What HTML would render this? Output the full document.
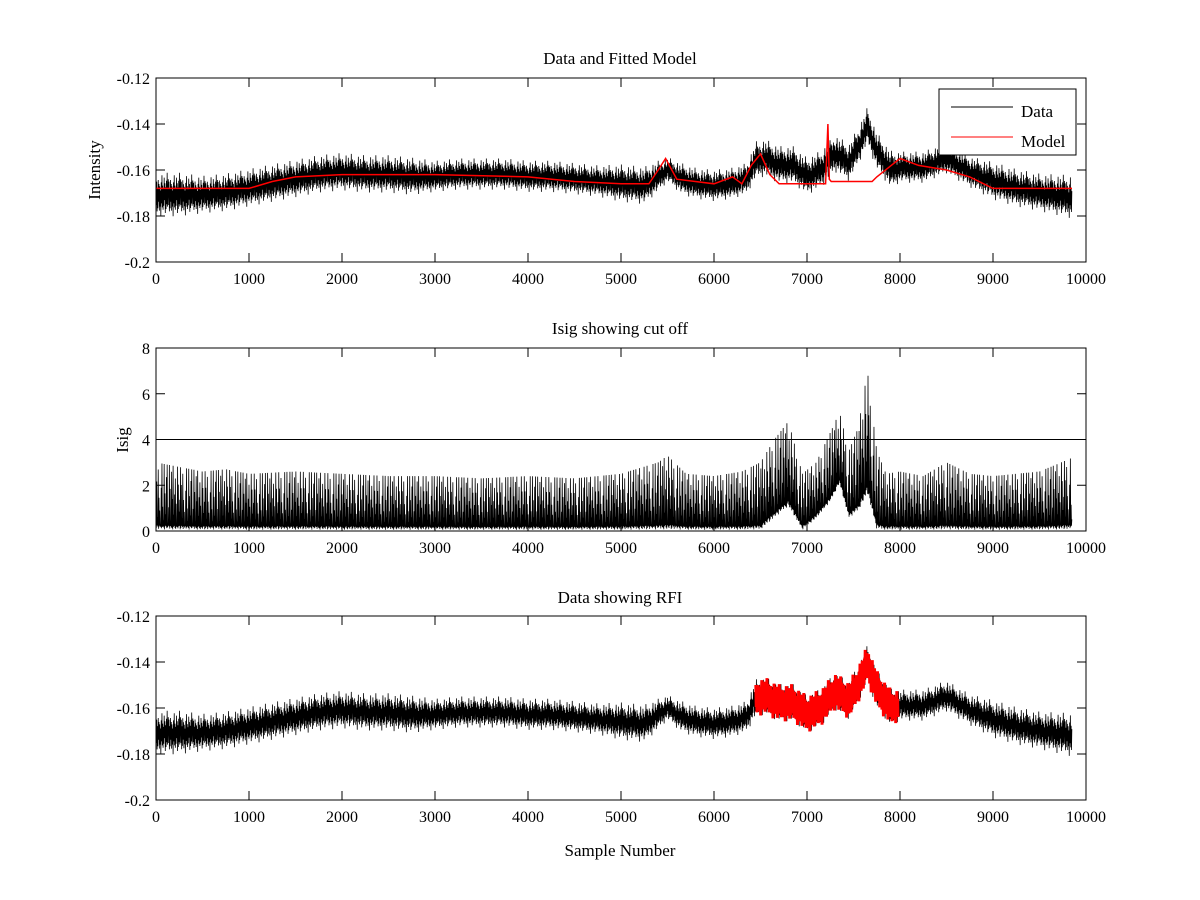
<!DOCTYPE html>
<html><head><meta charset="utf-8"><style>
body{margin:0;background:#fff}
svg{display:block;font-family:"Liberation Serif",serif;}
</style></head><body>
<svg id="fig" width="1200" height="900" viewBox="0 0 1200 900"></svg>
<script>
// ---- data ----
const dataX =   [0,250,500,750,1000,1250,1500,1750,2000,2250,2500,2750,3000,3250,3500,3750,4000,4250,4500,4750,5000,5250,5400,5500,5650,5800,6000,6200,6350,6450,6550,6700,6850,7000,7150,7300,7450,7550,7650,7750,7900,8000,8250,8500,8750,9000,9250,9500,9850];
const dataMid = [-0.171,-0.171,-0.171,-0.170,-0.168,-0.166,-0.164,-0.162,-0.161,-0.162,-0.162,-0.163,-0.163,-0.162,-0.162,-0.162,-0.163,-0.163,-0.164,-0.165,-0.166,-0.167,-0.163,-0.160,-0.164,-0.166,-0.167,-0.166,-0.164,-0.156,-0.155,-0.158,-0.158,-0.163,-0.160,-0.153,-0.157,-0.150,-0.141,-0.152,-0.160,-0.159,-0.159,-0.155,-0.161,-0.165,-0.168,-0.170,-0.172];
const dataHalf = [0.007,0.007,0.006,0.006,0.006,0.006,0.006,0.006,0.006,0.006,0.006,0.006,0.005,0.005,0.005,0.005,0.005,0.005,0.005,0.005,0.006,0.006,0.005,0.004,0.005,0.005,0.005,0.005,0.005,0.006,0.006,0.006,0.006,0.006,0.006,0.006,0.006,0.006,0.006,0.006,0.006,0.005,0.005,0.005,0.005,0.006,0.006,0.006,0.007];
const modelX = [0,1000,1250,1500,2000,3000,4000,4500,5000,5300,5400,5480,5600,6000,6200,6300,6400,6500,6600,6700,7200,7225,7240,7260,7700,7750,8000,8200,8500,8750,9000,9850];
const modelY = [-0.168,-0.168,-0.165,-0.163,-0.162,-0.162,-0.163,-0.165,-0.166,-0.166,-0.160,-0.155,-0.164,-0.166,-0.163,-0.166,-0.158,-0.153,-0.162,-0.166,-0.166,-0.140,-0.164,-0.165,-0.165,-0.163,-0.155,-0.158,-0.160,-0.163,-0.168,-0.168];
const isigX =  [0,250,500,750,1000,1500,2000,2500,3000,3500,4000,4500,5000,5400,5500,5700,6000,6300,6500,6650,6800,6950,7100,7250,7350,7450,7550,7650,7750,7850,8000,8250,8500,8750,9000,9500,9850];
const isigHi = [3.0,2.8,2.6,2.7,2.5,2.6,2.5,2.4,2.4,2.3,2.4,2.3,2.5,3.0,3.3,2.5,2.4,2.6,3.0,4.0,4.8,2.5,3.0,4.3,5.2,3.5,4.5,7.0,3.5,2.5,2.6,2.4,3.0,2.5,2.4,2.6,3.2];
const isigLo = [0,0,0,0,0,0,0,0,0,0,0,0,0,0,0,0,0,0,0,0.5,1.0,0,0.5,1.2,2.0,0.5,0.8,1.5,0,0,0,0,0,0,0,0,0];
const threshold = 4;
const rfiStart = 6450, rfiEnd = 7980;
const xTicks = [0,1000,2000,3000,4000,5000,6000,7000,8000,9000,10000];
const intTicks = [-0.12,-0.14,-0.16,-0.18,-0.2];
const isigTicks = [0,2,4,6,8];

const NS="http://www.w3.org/2000/svg";
const svg=document.getElementById('fig');
function mk(tag,attrs,parent){const e=document.createElementNS(NS,tag);for(const k in attrs)e.setAttribute(k,attrs[k]);(parent||svg).appendChild(e);return e;}
function interp(xs,ys,x){if(x<=xs[0])return ys[0];for(let i=1;i<xs.length;i++){if(x<=xs[i]){const t=(x-xs[i-1])/(xs[i]-xs[i-1]);return ys[i-1]+t*(ys[i]-ys[i-1]);}}return ys[ys.length-1];}
const pat=[1,-0.6,0.85,-1,0.45,-0.8,0.95,-0.4,0.7,-0.95,0.55,-0.7,0.3,-1.3,0.8,-0.5,1.25,-0.75,0.6,-0.9,0.4,-0.65,1.1,-0.3,0.75,-1.1,0.5,-0.85,0.9,-0.55,1.4,-0.7,0.35];
const L=156,R=1086;
const sx=v=>L+(v/10000)*(R-L);
const STEP=4;

function axes(top,bot,ymin,ymax,yTicks,fmt,name){
  const sy=v=>bot-(v-ymin)/(ymax-ymin)*(bot-top);
  const g=mk('g',{});
  
  
  xTicks.forEach(t=>{const x=sx(t);
    mk('line',{x1:x,x2:x,y1:bot,y2:bot-9,stroke:'#000'},g);
    mk('line',{x1:x,x2:x,y1:top,y2:top+9,stroke:'#000'},g);
    const tx=mk('text',{x:x,y:bot+22,'text-anchor':'middle','font-size':16},g);tx.textContent=t;
    
    });
  yTicks.forEach(t=>{const y=sy(t);
    mk('line',{x1:L,x2:L+9,y1:y,y2:y,stroke:'#000'},g);
    mk('line',{x1:R,x2:R-9,y1:y,y2:y,stroke:'#000'},g);
    const tx=mk('text',{x:L-6,y:y+6,'text-anchor':'end','font-size':16},g);tx.textContent=fmt(t);
    
    });
  return sy;
}
function frame(top,bot){const r=mk('rect',{x:L,y:top,width:R-L,height:bot-top,fill:'none',stroke:'#000'});
  
  }
function noisy(sy,x0,x1,color,name,width){
  let pts=[];let k=0;
  for(let s=x0;s<=x1;s+=STEP,k++){const m=interp(dataX,dataMid,s),h=interp(dataX,dataHalf,s);
    pts.push(sx(s).toFixed(2)+','+sy(m+h*pat[k%pat.length]).toFixed(1));}
  const p=mk('polyline',{points:pts.join(' '),fill:'none',stroke:color,'stroke-width':width||1});
  
  
}
function title(x,y,txt,name,rot){const t=mk('text',{x:x,y:y,'text-anchor':'middle','font-size':17,transform:rot?`rotate(-90 ${x} ${y})`:''});t.textContent=txt;
  
  }

// Panel 1
let sy1=axes(78,262,-0.2,-0.12,intTicks,v=>v,'top');
noisy(sy1,0,9850,'#000','data-line-top',0.8);
{let pts=modelX.map((x,i)=>sx(x).toFixed(1)+','+sy1(modelY[i]).toFixed(1));
 const p=mk('polyline',{points:pts.join(' '),fill:'none',stroke:'#f00','stroke-width':1.5});
 
 }
frame(78,262);
title(620,64,'Data and Fitted Model','top-title');
title(100,170,'Intensity','top-y-axis-title',true);
// legend
{const g=mk('g',{});
 
 
 mk('rect',{x:939,y:89,width:137,height:66,fill:'#fff',stroke:'#000'},g);
 mk('line',{x1:951,x2:1013,y1:107,y2:107,stroke:'#000'},g);
 const t1=mk('text',{x:1021,y:117,'font-size':17},g);t1.textContent='Data';
 
 
 mk('line',{x1:951,x2:1013,y1:137,y2:137,stroke:'#f00'},g);
 const t2=mk('text',{x:1021,y:147,'font-size':17},g);t2.textContent='Model';
 
 }

// Panel 2
let sy2=axes(348,531,0,8,isigTicks,v=>v,'middle');
{let pts=[];let k=0;
 for(let s=0;s<=9850;s+=STEP,k++){const hi=interp(isigX,isigHi,s),lo=interp(isigX,isigLo,s);
   const f=Math.min(1,Math.abs(pat[k%pat.length]));const v=(k%2==0)?lo+(hi-lo)*f*f:lo+(hi-lo)*0.08*f;
   pts.push(sx(s).toFixed(2)+','+sy2(v).toFixed(1));}
 const p=mk('polyline',{points:pts.join(' '),fill:'none',stroke:'#000','stroke-width':0.8});
 
 }
{const l=mk('line',{x1:L,x2:R,y1:sy2(threshold),y2:sy2(threshold),stroke:'#000','stroke-width':1});
 
 }
frame(348,531);
title(620,334,'Isig showing cut off','middle-title');
title(128,440,'Isig','middle-y-axis-title',true);

// Panel 3
let sy3=axes(616,800,-0.2,-0.12,intTicks,v=>v,'bottom');
noisy(sy3,0,9850,'#000','data-line-bottom',0.8);
noisy(sy3,rfiStart,rfiEnd,'#f00','rfi-points',3);
frame(616,800);
title(620,603,'Data showing RFI','bottom-title');
title(620,856,'Sample Number','x-axis-title');
</script>
</body></html>
